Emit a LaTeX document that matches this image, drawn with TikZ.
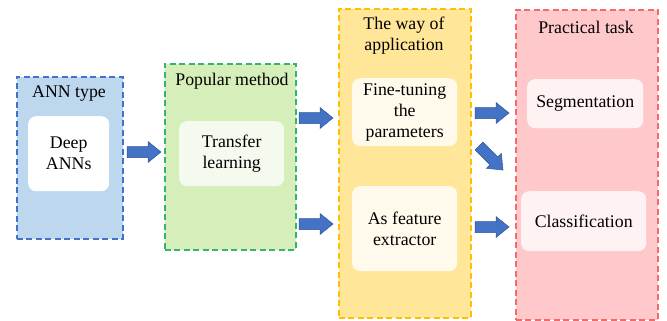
\documentclass[tikz,border=0pt]{standalone}
\usepackage{fontspec}
\setmainfont{Liberation Serif}
\definecolor{bluefill}{HTML}{BDD7EE}
\definecolor{blueedge}{HTML}{4472C4}
\definecolor{greenfill}{HTML}{D5EEBA}
\definecolor{greenedge}{HTML}{33B56B}
\definecolor{greeninner}{HTML}{F4FAEE}
\definecolor{yellowfill}{HTML}{FFE699}
\definecolor{yellowedge}{HTML}{FFC000}
\definecolor{yellowinner}{HTML}{FFFAEB}
\definecolor{redfill}{HTML}{FFC9CB}
\definecolor{rededge}{HTML}{F26B6B}
\definecolor{redinner}{HTML}{FFF2F2}
\definecolor{arrowfill}{HTML}{4472C4}
\definecolor{arrowedge}{HTML}{2F5597}
\tikzset{
  container/.style={draw, line width=1.8pt, dash pattern=on 6pt off 3.5pt, inner sep=0pt, anchor=north west},
  inner/.style={rounded corners=8pt, inner sep=0pt, anchor=north west, align=center},
  lbl/.style={font=\fontsize{17.8}{21}\selectfont, align=center, inner sep=0pt},
  blockarrow/.pic={\filldraw[fill=arrowfill, draw=arrowedge, line width=0.5pt]
     (0,-5.5) -- (21,-5.5) -- (21,-10.5) -- (34,0) -- (21,10.5) -- (21,5.5) -- (0,5.5) -- cycle;}
}
\begin{document}
\begin{tikzpicture}[x=1pt,y=-1pt]
\useasboundingbox (0,0) rectangle (667,321);
% containers
\node[container, draw=blueedge, fill=bluefill, minimum width=106pt, minimum height=162pt] (c1) at (16,76) {};
\node[container, draw=greenedge, fill=greenfill, minimum width=131pt, minimum height=186pt] (c2) at (164,63) {};
\node[container, draw=yellowedge, fill=yellowfill, minimum width=132pt, minimum height=309pt] (c3) at (338,8) {};
\node[container, draw=rededge, fill=redfill, minimum width=142pt, minimum height=310pt] (c4) at (515,9) {};
% titles
\node[lbl] (t1) at (69,94) {ANN type};
\node[lbl] (t2) at (232,81) {Popular method};
\node[lbl] (t3) at (404,35.5) {The way of\\application};
\node[lbl] (t4) at (586,27) {Practical task};
% inner boxes
\node[inner, fill=white, minimum width=81pt, minimum height=75pt] (i1) at (28,116) {};
\node[lbl] at (i1.center) {Deep\\ANNs};
\node[inner, fill=greeninner, minimum width=105pt, minimum height=65pt] (i2) at (179,121) {};
\node[lbl] at (i2.center) {Transfer\\learning};
\node[inner, fill=yellowinner, minimum width=105pt, minimum height=68pt] (i3) at (352,78) {};
\node[lbl] at (i3.center) {Fine-tuning\\the\\parameters};
\node[inner, fill=yellowinner, minimum width=105pt, minimum height=85pt] (i4) at (352,186) {};
\node[lbl] at (i4.center) {As feature\\extractor};
\node[inner, fill=redinner, minimum width=116pt, minimum height=49pt] (i5) at (527,79) {};
\node[lbl] at (i5.center) {Segmentation};
\node[inner, fill=redinner, minimum width=125pt, minimum height=60pt] (i6) at (521,191) {};
\node[lbl] at (i6.center) {Classification};
% arrows
\pic at (127,152) {blockarrow};
\pic at (299,118) {blockarrow};
\pic at (299,224) {blockarrow};
\pic at (475,113) {blockarrow};
\pic[rotate=-45] at (479,146) {blockarrow};
\pic at (475,227) {blockarrow};
\end{tikzpicture}
\end{document}
